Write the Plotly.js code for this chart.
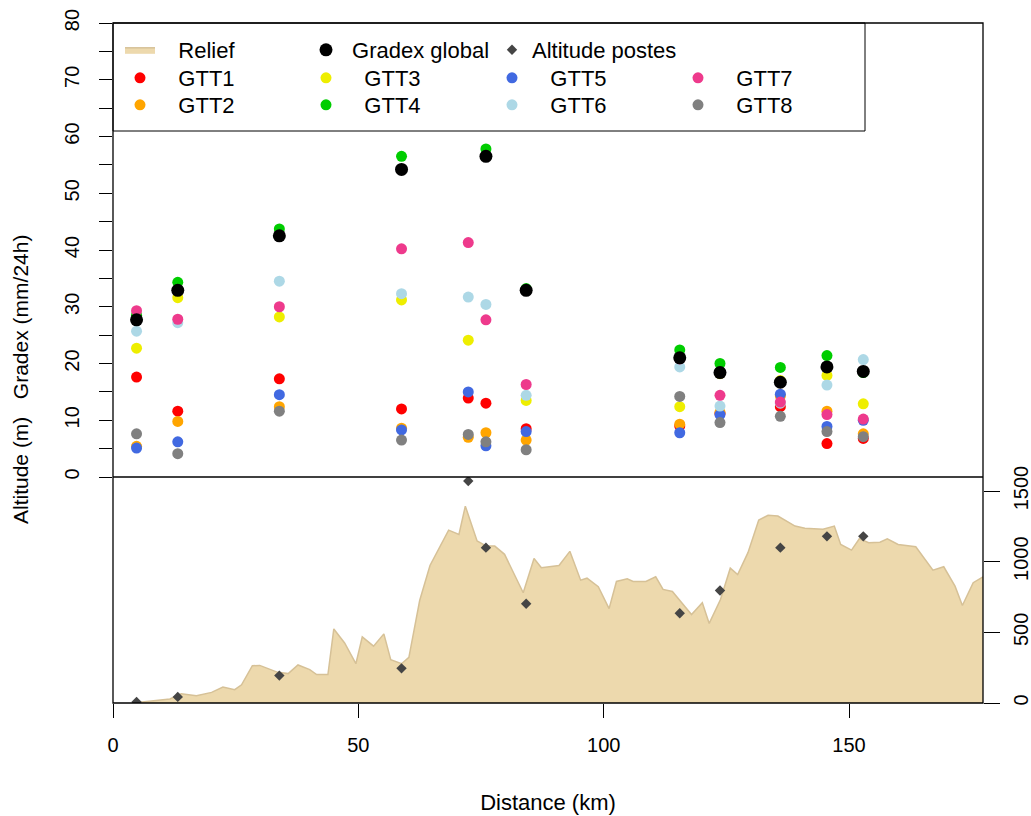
<!DOCTYPE html>
<html>
<head>
<meta charset="utf-8">
<script src="https://cdn.plot.ly/plotly-3.0.1.min.js"></script>
<style>html,body{margin:0;padding:0;background:#fff;}#chart{width:1031px;height:816px;}</style>
</head>
<body>
<div id="chart"></div>
<script>
// ---- Data ----
const stationKm = [4.8, 13.2, 33.9, 58.8, 72.4, 76.0, 84.2, 115.5, 123.7, 136.0, 145.5, 152.9];
const altitudePostes = [7, 43, 194, 245, 1571, 1099, 702, 635, 796, 1099, 1179, 1179];
const gtt1 = [17.6, 11.6, 17.3, 12.0, 13.9, 13.0, 8.5, 9.0, 11.2, 12.4, 5.9, 6.8];
const gtt2 = [5.4, 9.8, 12.4, 8.6, 7.0, 7.8, 6.5, 9.3, 11.4, 14.3, 11.6, 7.6];
const gtt3 = [22.7, 31.6, 28.2, 31.2, 24.1, null, 13.5, 12.4, 18.2, 17.0, 17.9, 12.9];
const gtt4 = [28.5, 34.3, 43.7, 56.5, null, 57.8, 33.2, 22.4, 20.0, 19.3, 21.4, 18.4];
const gtt5 = [5.1, 6.2, 14.5, 8.3, 15.0, 5.5, 8.0, 7.8, 11.0, 14.6, 8.9, 10.0];
const gtt6 = [25.7, 27.2, 34.5, 32.3, 31.7, 30.4, 14.4, 19.4, 12.5, 13.0, 16.2, 20.7];
const gtt7 = [29.3, 27.8, 30.0, 40.2, 41.3, 27.7, 16.3, 20.8, 14.4, 13.2, 11.0, 10.2];
const gtt8 = [7.6, 4.1, 11.6, 6.5, 7.5, 6.2, 4.8, 14.2, 9.6, 10.7, 8.0, 7.1];
const gradexGlobal = [27.7, 32.9, 42.5, 54.2, null, 56.5, 32.9, 21.0, 18.4, 16.7, 19.4, 18.6];

const reliefKm = [4.0, 6.8, 9.5, 11.6, 13.9, 17.0, 20.1, 22.4, 24.8, 26.2, 28.4, 29.9, 33.6, 35.7, 37.7, 40.1, 41.5, 43.8, 45.0, 47.2, 49.5, 50.8, 53.1, 55.2, 56.6, 58.8, 60.3, 62.5, 64.6, 66.3, 68.4, 70.5, 71.8, 74.2, 76.1, 77.8, 79.8, 83.6, 85.8, 87.3, 89.0, 90.9, 93.1, 95.3, 96.6, 98.9, 101.1, 102.6, 104.8, 106.0, 108.6, 110.6, 112.1, 114.0, 117.9, 120.1, 121.5, 123.8, 125.8, 127.3, 129.4, 131.6, 133.5, 135.5, 139.0, 141.0, 144.7, 147.0, 148.3, 150.5, 152.1, 154.0, 156.3, 157.8, 160.0, 163.6, 167.1, 169.3, 171.6, 173.1, 175.3, 177.3];
const reliefAlt = [0, 11, 23, 28, 66, 52, 75, 113, 94, 129, 264, 266, 217, 208, 269, 236, 201, 201, 524, 425, 278, 468, 402, 489, 307, 278, 323, 725, 973, 1087, 1223, 1193, 1393, 1146, 1110, 1110, 1052, 780, 1023, 957, 964, 973, 1073, 869, 883, 823, 668, 860, 879, 860, 860, 893, 804, 789, 626, 709, 563, 732, 954, 909, 1064, 1295, 1328, 1323, 1252, 1236, 1229, 1252, 1122, 1082, 1162, 1134, 1138, 1162, 1122, 1106, 940, 964, 827, 690, 851, 893];

const xTicks = [0, 50, 100, 150];
const altTicks = [0, 500, 1000, 1500];

const seriesNames = ['GTT1', 'GTT2', 'GTT3', 'GTT4', 'GTT5', 'GTT6', 'GTT7', 'GTT8'];
const seriesValues = [gtt1, gtt2, gtt3, gtt4, gtt5, gtt6, gtt7, gtt8];
const seriesColors = ['#FF0000', '#FFA500', '#EEEE00', '#00CD00', '#4169E1', '#ADD8E6', '#EE3A8C', '#808080'];
// legend rows: odd GTT on row 2, even GTT on row 3
const seriesLegend = ['legend2', 'legend3', 'legend2', 'legend3', 'legend2', 'legend3', 'legend2', 'legend3'];

const FONT = 'Liberation Sans, Arial, sans-serif';
const NB = '\u00A0';
const pad = (s, n) => NB.repeat(n) + s;

const traces = [];
traces.push({
  type: 'scatter', name: pad('Relief', 3), x: reliefKm, y: reliefAlt, xaxis: 'x', yaxis: 'y2',
  mode: 'lines', fill: 'tozeroy', fillcolor: '#EDD9AD',
  line: {color: '#D6C197', width: 1.5}, legend: 'legend', legendrank: 1
});
traces.push({
  type: 'scatter', name: 'Altitude postes', x: stationKm, y: altitudePostes, xaxis: 'x', yaxis: 'y2',
  mode: 'markers', marker: {symbol: 'diamond', size: 8, color: '#454545'}, legend: 'legend', legendrank: 3
});
seriesNames.forEach((n, i) => {
  traces.push({
    type: 'scatter', name: pad(n, 3), x: stationKm, y: seriesValues[i], xaxis: 'x', yaxis: 'y',
    mode: 'markers', marker: {size: 11, color: seriesColors[i]}, legend: seriesLegend[i], legendrank: i + 1
  });
});
traces.push({
  type: 'scatter', name: pad('Gradex global', 1), x: stationKm, y: gradexGlobal, xaxis: 'x', yaxis: 'y',
  mode: 'markers', marker: {size: 13, color: '#000000'}, legend: 'legend', legendrank: 2
});

const H = 680, TOP = 23, SPLIT = 477;
const py = p => (TOP + H - p) / H;
const px = p => (p - 113) / 870;
const split = py(SPLIT);

const legendCommon = {
  orientation: 'h', xanchor: 'left', yanchor: 'middle', x: px(120),
  font: {family: FONT, size: 22, color: '#000'}, bgcolor: 'rgba(0,0,0,0)', borderwidth: 0,
  entrywidth: 141, entrywidthmode: 'pixels', traceorder: 'normal'
};

const layout = {
  width: 1031, height: 816,
  margin: {l: 113, r: 48, t: TOP, b: 816 - TOP - H},
  paper_bgcolor: '#fff', plot_bgcolor: '#fff',
  font: {family: FONT, size: 20, color: '#000'},
  showlegend: true,
  legend: Object.assign({}, legendCommon, {y: py(50)}),
  legend2: Object.assign({}, legendCommon, {y: py(78)}),
  legend3: Object.assign({}, legendCommon, {y: py(105)}),
  xaxis: {
    anchor: 'y2', range: [0, 177.3], tickvals: xTicks, ticks: 'outside', ticklen: 14, tickcolor: '#000',
    showgrid: false, zeroline: false, showline: false, ticklabelstandoff: 10,
    tickfont: {size: 20},
    title: {text: 'Distance (km)', font: {size: 22}, standoff: 39}
  },
  yaxis: {
    domain: [split, 1], anchor: 'x', range: [0, 80], dtick: 10, tick0: 0, ticks: 'outside', ticklen: 13,
    tickcolor: '#000', tickangle: -90, showgrid: false, zeroline: false, showline: false,
    ticklabelstandoff: 12, tickfont: {size: 20},
    minor: {dtick: 5, ticks: 'outside', ticklen: 13, tickcolor: '#000', showgrid: false}
  },
  yaxis2: {
    domain: [0, split], anchor: 'x', side: 'right', range: [0, (TOP + H - SPLIT) / (212 / 1500)],
    tickvals: altTicks, ticks: 'outside', ticklen: 16, tickcolor: '#000', tickangle: -90,
    showgrid: false, zeroline: false, showline: false, ticklabelstandoff: 4, tickfont: {size: 20}
  },
  shapes: [
    {type: 'rect', xref: 'paper', yref: 'paper', x0: 0, x1: 1, y0: 0, y1: 1, line: {color: '#000', width: 1.3}},
    {type: 'line', xref: 'paper', yref: 'paper', x0: 0, x1: 1, y0: split, y1: split, line: {color: '#000', width: 1.3}},
    {type: 'rect', xref: 'paper', yref: 'paper', x0: 0, x1: px(865), y0: py(131), y1: 1, line: {color: '#000', width: 1}}
  ],
  annotations: [
    {xref: 'paper', yref: 'paper', x: px(20), y: py(380), text: 'Altitude (m)   Gradex (mm/24h)',
     textangle: -90, showarrow: false, font: {size: 21, family: FONT}, xanchor: 'center', yanchor: 'middle'}
  ]
};

Plotly.newPlot('chart', traces, layout, {displayModeBar: false, staticPlot: true});
</script>
</body>
</html>
